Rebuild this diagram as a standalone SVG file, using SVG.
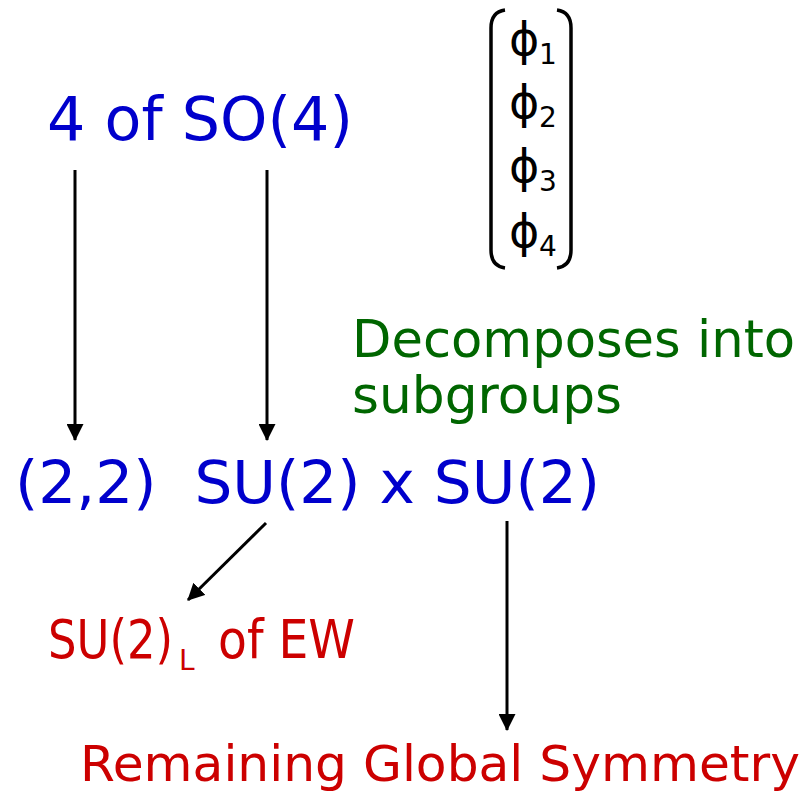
<svg xmlns="http://www.w3.org/2000/svg" width="808" height="795" viewBox="0 0 808 795">
<style>
text{font-family:"DejaVu Sans","Open Sans",sans-serif}
.b{fill:#0000cc}
.r{fill:#cc0000}
.g{fill:#006600}
.k{fill:#000}
.ln{stroke:#000;stroke-width:3;fill:none}
.br{stroke:#000;stroke-width:3.5;fill:none}
.phi{font-size:46px}
.sub{font-size:28px}
</style>
<defs>
<marker id="a" viewBox="0 0 16 16" refX="15" refY="8" markerWidth="17" markerHeight="17" orient="auto" markerUnits="userSpaceOnUse">
<path d="M0,0 L16,8 L0,16 z" fill="#000"/>
</marker>
</defs>
<g id="so4"><text class="b" x="47" y="140" font-size="61" textLength="306" lengthAdjust="spacingAndGlyphs">4 of SO(4)</text></g>
<g id="vector">
<path class="br" d="M505,10 Q491,12 491,28 L491,250 Q491,266 505,268"/>
<path class="br" d="M557,10 Q571,12 571,28 L571,250 Q571,266 557,268"/>
<text class="k phi" x="509" y="55">ϕ</text><text class="k sub" x="539" y="64">1</text>
<text class="k phi" x="509" y="118">ϕ</text><text class="k sub" x="539" y="127">2</text>
<text class="k phi" x="509" y="182">ϕ</text><text class="k sub" x="539" y="191">3</text>
<text class="k phi" x="509" y="247">ϕ</text><text class="k sub" x="539" y="256">4</text>
</g>
<g id="decomp"><text class="g" x="352" y="357" font-size="51" textLength="443" lengthAdjust="spacingAndGlyphs">Decomposes into</text>
<text class="g" x="352" y="413" font-size="51" textLength="270" lengthAdjust="spacingAndGlyphs">subgroups</text></g>
<g id="groups"><text class="b" x="15" y="503" font-size="58" textLength="585" lengthAdjust="spacingAndGlyphs" xml:space="preserve">(2,2)  SU(2) x SU(2)</text></g>
<g id="su2l">
<text class="r" x="48" y="658" font-size="53" textLength="125" lengthAdjust="spacingAndGlyphs">SU(2)</text>
<text class="r" x="179" y="670" font-size="28">L</text>
<text class="r" x="218" y="658" font-size="53" textLength="137" lengthAdjust="spacingAndGlyphs">of EW</text>
</g>
<g id="remaining"><text class="r" x="80" y="781" font-size="49" textLength="720" lengthAdjust="spacingAndGlyphs">Remaining Global Symmetry</text></g>
<g id="connectors">
<line class="ln" x1="75" y1="170" x2="75" y2="440" marker-end="url(#a)"/>
<line class="ln" x1="267" y1="170" x2="267" y2="440" marker-end="url(#a)"/>
<line class="ln" x1="266" y1="523" x2="188" y2="600" marker-end="url(#a)"/>
<line class="ln" x1="507" y1="521" x2="507" y2="730" marker-end="url(#a)"/>
</g>
</svg>
